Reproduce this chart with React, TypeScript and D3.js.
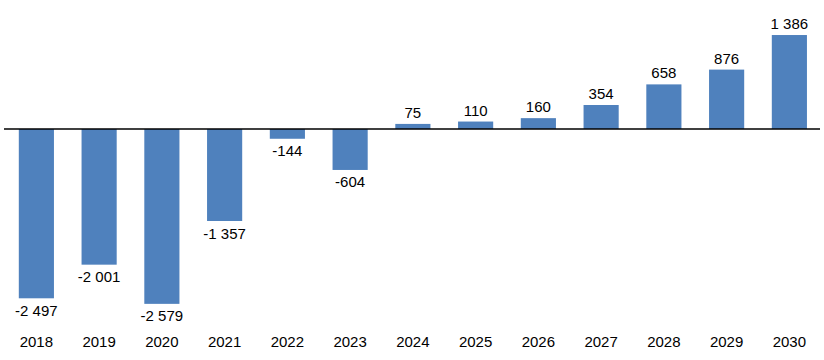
import React from "react";
import * as d3 from "d3";

const years = ["2018", "2019", "2020", "2021", "2022", "2023", "2024", "2025", "2026", "2027", "2028", "2029", "2030"];
const values = [-2497, -2001, -2579, -1357, -144, -604, 75, 110, 160, 354, 658, 876, 1386];

const W = 824;
const H = 360;

const locale = d3.formatLocale({ decimal: ",", thousands: " ", grouping: [3], currency: ["", ""], minus: "-" });
const fmt = locale.format(",d");

export default function App() {
  const x = d3.scaleBand<string>().domain(years).range([5, 820.75]).paddingInner(0.44).paddingOuter(0.22);
  const y = d3.scaleLinear().domain([-3000, 1500]).range([129 + 3000 * 0.0678, 129 - 1500 * 0.0678]);
  const font = "'Liberation Sans', Arial, sans-serif";
  return (
    <svg width={W} height={H} style={{ position: "absolute", left: 0, top: 0, background: "#fff" }}>
      {values.map((v, i) => {
        const xx = x(years[i])!;
        const y0 = y(0);
        const yv = y(v);
        return (
          <g key={years[i]}>
            <rect x={xx} y={Math.min(y0, yv)} width={x.bandwidth()} height={Math.abs(yv - y0)} fill="#4F81BD" />
            <text
              x={xx + x.bandwidth() / 2}
              y={v < 0 ? yv + 17.5 : yv - 6}
              textAnchor="middle"
              fontFamily={font}
              fontSize={15}
              fill="#000"
            >
              {fmt(v)}
            </text>
            <text x={xx + x.bandwidth() / 2} y={347} textAnchor="middle" fontFamily={font} fontSize={15} fill="#000">
              {years[i]}
            </text>
          </g>
        );
      })}
      <line x1={4} x2={820} y1={y(0)} y2={y(0)} stroke="#000" strokeWidth={1.3} />
    </svg>
  );
}
